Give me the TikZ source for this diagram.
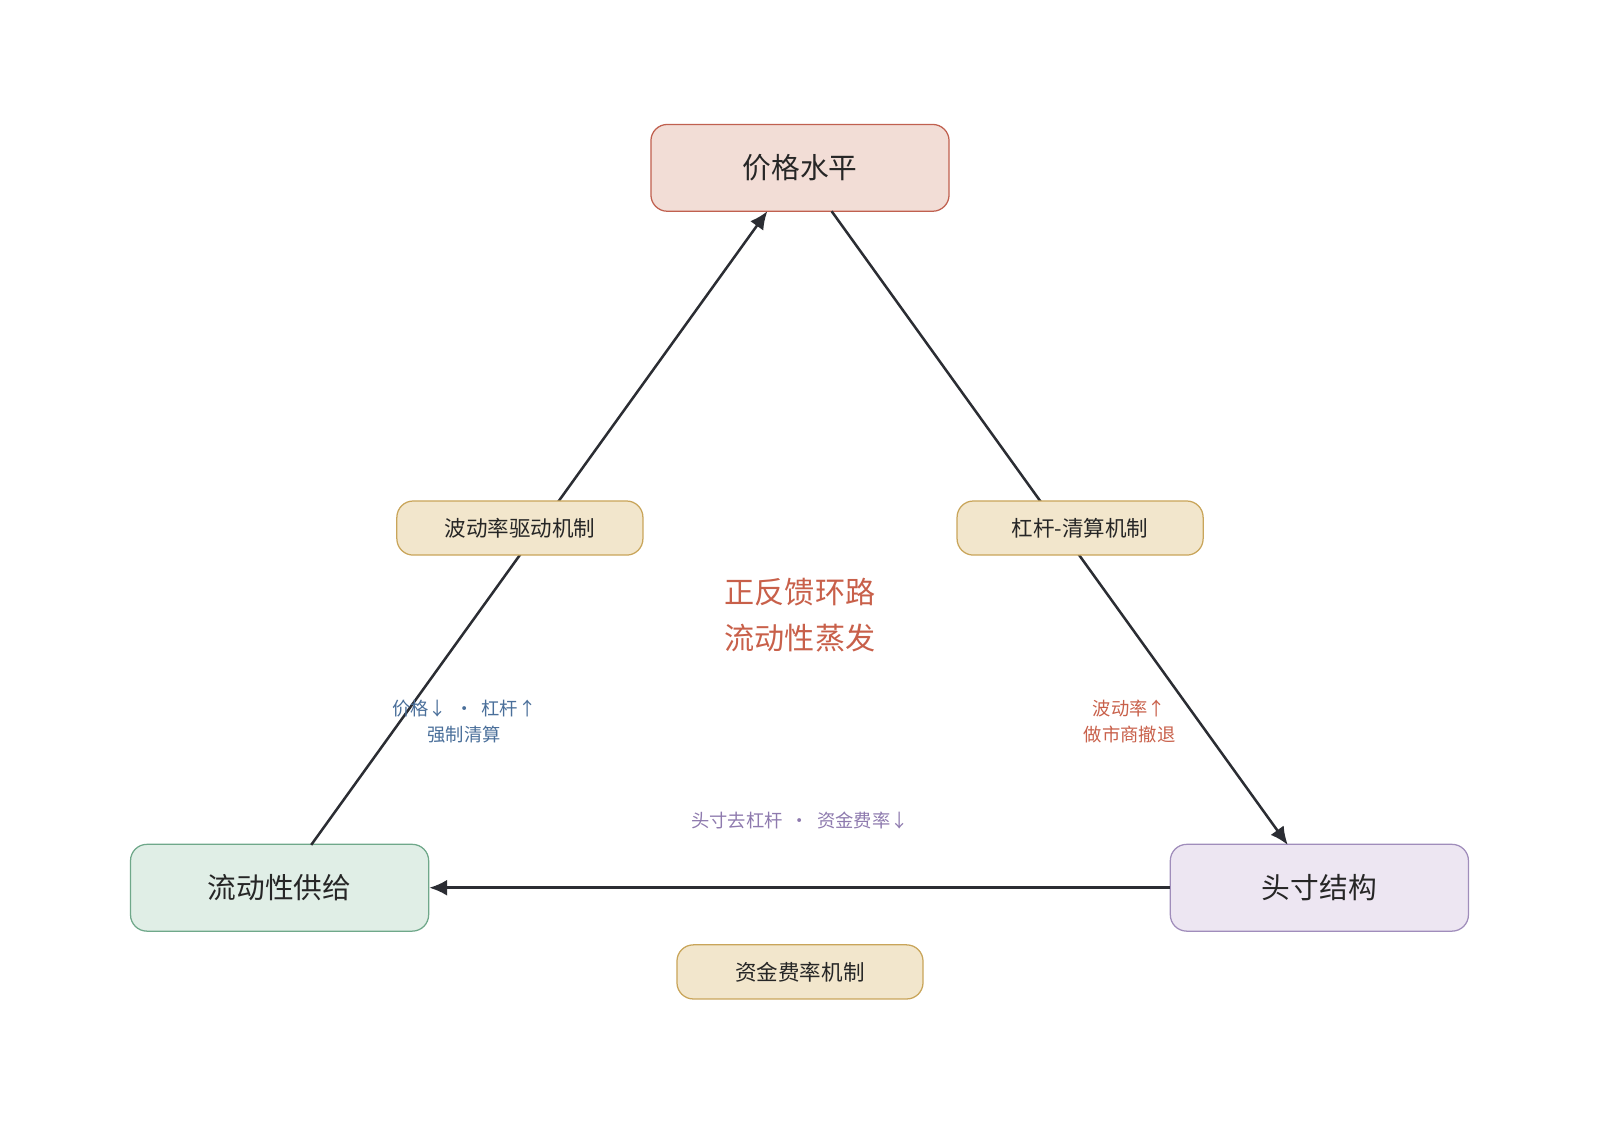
\documentclass[tikz,border=0pt]{standalone}
\usepackage{fontspec}
\setmainfont{Noto Sans CJK SC}
\usetikzlibrary{arrows.meta}
\definecolor{redf}{HTML}{F2DDD6}\definecolor{redd}{HTML}{C0604F}
\definecolor{grnf}{HTML}{E0EEE6}\definecolor{grnd}{HTML}{6FA88A}
\definecolor{purf}{HTML}{EDE6F2}\definecolor{purd}{HTML}{A08DBB}
\definecolor{yelf}{HTML}{F2E6CC}\definecolor{yeld}{HTML}{C9A55A}
\definecolor{ctr}{HTML}{C8604A}\definecolor{blu}{HTML}{4A6F9A}
\definecolor{prp}{HTML}{8E7AAE}\definecolor{edge}{HTML}{2B2D33}
\begin{document}
\begin{tikzpicture}[x=0.01cm,y=-0.01cm,
 main/.style={draw,rounded corners=1.6mm,line width=0.35pt,minimum width=2.92cm,minimum height=0.85cm,inner sep=0pt,font=\fontsize{8pt}{10pt}\selectfont,text=black!85},
 mech/.style={draw=yeld,fill=yelf,rounded corners=1.6mm,line width=0.35pt,minimum width=2.41cm,minimum height=0.53cm,inner sep=0pt,font=\fontsize{6pt}{8pt}\selectfont,text=black!85},
 conn/.style={draw=edge,line width=0.7pt,-{Latex[length=5pt,width=4.5pt]}},
 lab/.style={font=\fontsize{5.1pt}{7.4pt}\selectfont,align=center,inner sep=0pt}]
\useasboundingbox (0,0) rectangle (1568,1098);
\node[main,fill=redf,draw=redd] (p) at (784,164.5) {价格水平};
\node[main,fill=grnf,draw=grnd] (l) at (274,870) {流动性供给};
\node[main,fill=purf,draw=purd] (s) at (1293,870) {头寸结构};
\coordinate (la) at (305,828); \coordinate (pa) at (752,207);
\coordinate (pb) at (815,207); \coordinate (sb) at (1262,828);
\draw[conn] (la) -- (pa);
\draw[conn] (pb) -- (sb);
\draw[conn] (s.west) -- (l.east);
\node[mech] (m1) at (509.5,517.5) {波动率驱动机制};
\node[mech] (m2) at (1058.5,517.5) {杠杆-清算机制};
\node[mech] (m3) at (784,952.5) {资金费率机制};
\node[font=\fontsize{8.4pt}{13pt}\selectfont,text=ctr,align=center] (c) at (784,603) {正反馈环路\\流动性蒸发};
\node[lab,text=blu] (t1) at (455,707) {价格↓ \ · \ 杠杆↑\\强制清算};
\node[lab,text=ctr] (t2) at (1107,707) {波动率↑\\做市商撤退};
\node[lab,text=prp] (t3) at (784,804) {头寸去杠杆 \ · \ 资金费率↓};
\end{tikzpicture}
\end{document}
